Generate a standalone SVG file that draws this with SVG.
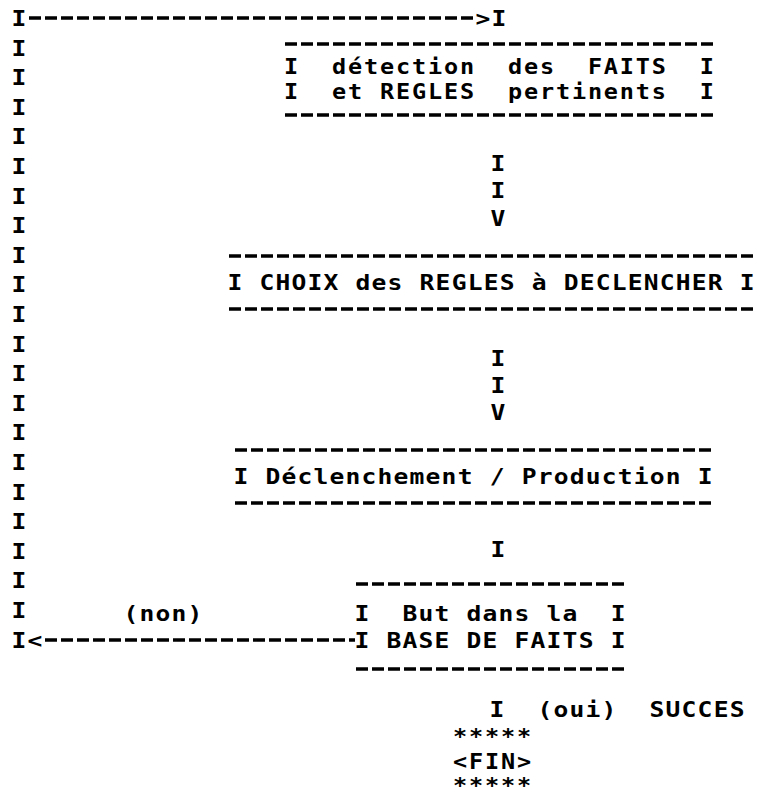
<svg xmlns="http://www.w3.org/2000/svg" width="761" height="799" viewBox="0 0 761 799">
<style>
.t{font-family:"DejaVu Sans Mono","Liberation Mono",monospace;font-size:22px;font-weight:bold;fill:#000;letter-spacing:1.05px}
.s{font-size:21px;letter-spacing:1.645px}
.d{stroke:#000;stroke-width:3.4;stroke-dasharray:12 4;fill:none}
</style>
<rect width="761" height="799" fill="#fff"/>
<g id="connectors">
  <line class="d" x1="29" y1="18" x2="473" y2="18"/>
  <text class="t" transform="translate(475.6,0) scale(1.12,1)" x="0" y="26">&gt;I</text>
  <text class="t" transform="translate(11.6,0) scale(1.12,1)" x="0">
    <tspan x="0" y="26">I</tspan><tspan x="0" y="55.6">I</tspan><tspan x="0" y="85.2">I</tspan><tspan x="0" y="114.8">I</tspan><tspan x="0" y="144.4">I</tspan><tspan x="0" y="174">I</tspan><tspan x="0" y="203.6">I</tspan><tspan x="0" y="233.2">I</tspan><tspan x="0" y="262.8">I</tspan><tspan x="0" y="292.4">I</tspan><tspan x="0" y="322">I</tspan><tspan x="0" y="351.6">I</tspan><tspan x="0" y="381.2">I</tspan><tspan x="0" y="410.8">I</tspan><tspan x="0" y="440.4">I</tspan><tspan x="0" y="470">I</tspan><tspan x="0" y="499.6">I</tspan><tspan x="0" y="529.2">I</tspan><tspan x="0" y="558.8">I</tspan><tspan x="0" y="588.4">I</tspan><tspan x="0" y="618">I</tspan><tspan x="0" y="647.6">I</tspan>
  </text>
  <text class="t" transform="translate(490.6,0) scale(1.12,1)" x="0"><tspan x="0" y="171">I</tspan><tspan x="0" y="198">I</tspan><tspan x="0" y="226">V</tspan></text>
  <text class="t" transform="translate(490.6,0) scale(1.12,1)" x="0"><tspan x="0" y="366">I</tspan><tspan x="0" y="393">I</tspan><tspan x="0" y="420">V</tspan></text>
  <text class="t" transform="translate(490.6,0) scale(1.12,1)" x="0" y="557">I</text>
  <text class="t" transform="translate(123.6,0) scale(1.12,1)" x="0" y="621">(non)</text>
  <text class="t" transform="translate(27.6,0) scale(1.12,1)" x="0" y="648">&lt;</text>
  <line class="d" x1="45" y1="640" x2="355" y2="640"/>
  <text class="t" xml:space="preserve" transform="translate(489.6,0) scale(1.12,1)" x="0" y="717">I  (oui)  SUCCES</text>
</g>
<g id="box1">
  <line class="d" x1="285" y1="44" x2="715" y2="44"/>
  <text class="t s" xml:space="preserve" transform="translate(284,0) scale(1.12,1)" x="0"><tspan x="0" y="74">I  détection  des  FAITS  I</tspan><tspan x="0" y="99">I  et REGLES  pertinents  I</tspan></text>
  <line class="d" x1="285" y1="115" x2="715" y2="115"/>
</g>
<g id="box2">
  <line class="d" x1="229" y1="256" x2="755" y2="256"/>
  <text class="t" xml:space="preserve" transform="translate(227.6,0) scale(1.12,1)" x="0" y="290">I CHOIX des REGLES à DECLENCHER I</text>
  <line class="d" x1="229" y1="309" x2="755" y2="309"/>
</g>
<g id="box3">
  <line class="d" x1="235" y1="450" x2="713" y2="450"/>
  <text class="t" xml:space="preserve" transform="translate(233.6,0) scale(1.12,1)" x="0" y="484">I Déclenchement / Production I</text>
  <line class="d" x1="235" y1="503" x2="713" y2="503"/>
</g>
<g id="box4">
  <line class="d" x1="356" y1="584" x2="626" y2="584"/>
  <text class="t" xml:space="preserve" transform="translate(354.6,0) scale(1.12,1)" x="0"><tspan x="0" y="621">I  But dans la  I</tspan><tspan x="0" y="648">I BASE DE FAITS I</tspan></text>
  <line class="d" x1="356" y1="669" x2="626" y2="669"/>
</g>
<g id="fin">
  <text class="t s" transform="translate(453,0) scale(1.12,1)" x="0"><tspan x="0" y="744.5">*****</tspan><tspan x="0" y="769">&lt;FIN&gt;</tspan><tspan x="0" y="793.5">*****</tspan></text>
</g>
</svg>
